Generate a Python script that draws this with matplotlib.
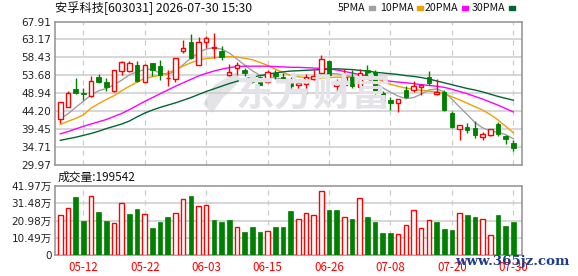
import numpy as np
import pandas as pd
import matplotlib
matplotlib.use("Agg")
import matplotlib.pyplot as plt
from matplotlib.patches import Rectangle, Polygon

plt.rcParams['font.family'] = ['DejaVu Sans', 'Noto Sans CJK SC']
CJK = ['Noto Sans CJK SC', 'DejaVu Sans']

# trading days shown (Dragon Boat holiday removed)
dates = pd.bdate_range("2026-05-07", "2026-07-30").drop(pd.Timestamp("2026-06-19"))
tick_dates = ["05-12", "05-22", "06-03", "06-15", "06-26", "07-08", "07-20", "07-30"]

opens = [42.2, 45.35, 50.09, 49.0, 48.24, 53.25, 52.02, 49.56, 54.92, 54.7,
         56.5, 51.93, 56.93, 56.2, 52.9, 52.81, 60.0, 62.47, 56.5, 62.4,
         60.8, 60.0, 53.78, 55.62, 55.18, 53.25, 53.25, 52.02, 54.3, 53.25,
         52.72, 51.14, 51.4, 52.72, 54.3, 57.37, 50.96, 51.14, 53.25, 50.53,
         55.18, 54.56, 49.03, 47.1, 46.4, 49.74, 49.74, 50.6, 53.25, 48.86,
         49.21, 43.77, 39.4, 39.99, 39.8, 37.5, 37.9, 40.69, 37.62, 35.9]
highs = [46.7, 49.65, 52.98, 50.35, 53.6, 54.1, 52.98, 55.0, 57.55, 57.4,
         57.4, 56.8, 56.93, 57.81, 55.18, 58.25, 63.08, 64.6, 63.7, 64.1,
         64.84, 61.5, 56.76, 57.11, 55.6, 54.0, 53.4, 55.18, 55.18, 54.3,
         53.2, 52.55, 54.0, 55.18, 59.13, 57.8, 52.8, 55.35, 55.0, 55.44,
         56.3, 55.0, 49.5, 47.98, 47.54, 50.8, 52.3, 51.5, 54.74, 52.72,
         49.7, 44.2, 40.5, 41.1, 41.7, 38.7, 39.4, 41.3, 38.0, 36.6]
lows = [41.0, 45.2, 48.8, 47.28, 47.97, 51.7, 49.65, 49.3, 53.8, 54.6,
        51.9, 51.8, 53.6, 52.55, 50.8, 51.93, 59.57, 58.0, 56.3, 60.9,
        58.25, 57.8, 53.42, 53.86, 53.4, 51.7, 51.1, 51.9, 52.7, 52.4,
        50.1, 49.47, 48.86, 52.4, 53.86, 53.5, 48.2, 50.6, 50.4, 49.47,
        53.25, 48.86, 45.8, 44.38, 44.1, 47.7, 49.4, 48.6, 51.2, 48.6,
        44.2, 39.8, 36.48, 38.5, 37.0, 36.5, 37.6, 37.6, 35.6, 33.8]
closes = [46.66, 49.03, 48.95, 48.8, 52.1, 51.8, 50.53, 55.0, 57.2, 56.96,
          52.28, 56.5, 55.18, 53.86, 53.1, 58.25, 60.8, 58.25, 62.47, 63.5,
          61.15, 58.43, 54.56, 56.32, 54.3, 51.93, 51.14, 54.56, 53.42, 53.0,
          50.79, 51.67, 53.25, 53.42, 57.99, 53.86, 52.02, 53.25, 50.96, 54.3,
          53.69, 49.03, 46.6, 46.4, 47.54, 47.89, 50.96, 51.1, 51.67, 49.2,
          44.47, 39.99, 40.43, 39.2, 37.9, 38.06, 39.4, 38.06, 36.74, 34.55]

ma5 = [42.2, 43.5, 45.2, 46.8, 48.5, 49.6, 50.2, 51.2, 52.4, 53.8,
       54.6, 55.2, 55.3, 54.2, 53.9, 54.8, 56.5, 58.2, 59.7, 60.6,
       61.0, 60.6, 59.6, 58.0, 56.4, 54.9, 53.7, 53.4, 53.0, 52.7,
       52.5, 52.3, 52.4, 52.7, 53.5, 54.1, 54.1, 53.7, 53.3, 53.0,
       52.7, 51.7, 50.4, 49.2, 48.2, 47.5, 47.8, 48.7, 49.8, 50.1,
       49.3, 47.4, 45.3, 43.3, 41.2, 39.8, 39.0, 38.6, 38.0, 36.9]
ma10 = [40.7, 41.5, 42.3, 43.2, 45.0, 46.2, 47.3, 48.3, 49.6, 50.8,
        51.9, 52.9, 53.3, 53.7, 54.3, 55.2, 56.1, 57.0, 57.7, 58.1,
        58.3, 58.5, 58.6, 58.5, 58.2, 57.8, 57.1, 56.3, 55.3, 54.4,
        53.7, 53.3, 53.1, 53.0, 53.0, 53.1, 53.2, 53.2, 53.1, 53.0,
        53.1, 53.0, 52.1, 51.3, 50.8, 50.3, 50.0, 49.7, 49.5, 49.3,
        48.9, 48.0, 47.2, 46.3, 45.4, 44.5, 43.3, 41.9, 40.2, 38.5]
ma20 = [38.2, 38.8, 39.5, 40.2, 40.8, 41.4, 42.0, 42.8, 43.6, 44.6,
        45.7, 46.8, 47.8, 48.8, 49.8, 50.8, 51.7, 52.6, 53.5, 54.2,
        54.8, 55.3, 55.7, 56.0, 56.1, 56.1, 56.1, 56.1, 56.0, 55.9,
        55.8, 55.8, 55.7, 55.6, 55.5, 55.4, 55.1, 54.7, 54.3, 53.9,
        53.5, 53.0, 52.5, 52.1, 51.9, 51.7, 51.5, 51.2, 51.0, 50.8,
        50.5, 50.0, 49.4, 48.8, 48.1, 47.4, 46.6, 45.8, 44.9, 44.0]
ma30 = [36.5, 36.9, 37.3, 37.8, 38.3, 38.9, 39.6, 40.2, 40.8, 41.6,
        42.7, 43.7, 44.5, 45.2, 45.8, 46.4, 47.1, 47.8, 48.6, 49.4,
        50.1, 50.8, 51.5, 52.1, 52.7, 53.2, 53.6, 54.0, 54.3, 54.6,
        54.8, 54.9, 55.0, 55.1, 55.2, 55.3, 55.4, 55.3, 55.2, 55.0,
        54.8, 54.5, 54.3, 54.1, 53.9, 53.6, 53.4, 53.1, 52.7, 52.2,
        51.7, 51.2, 50.7, 50.2, 49.8, 49.3, 48.7, 48.1, 47.6, 47.1]

# volume in 万 shares, colour by close vs previous close (r = up, g = down)
vol_wan = [24.3, 28.4, 35.1, 20.7, 35.9, 26.2, 20.7, 19.5, 31.4, 24.9,
           28.0, 24.9, 16.4, 20.1, 23.1, 25.5, 34.1, 35.9, 29.8, 30.4,
           21.3, 20.1, 21.3, 17.0, 14.0, 17.0, 14.0, 14.6, 17.0, 17.0,
           26.8, 21.7, 25.5, 24.3, 38.9, 27.4, 27.4, 23.1, 21.9, 34.7,
           23.1, 20.1, 13.4, 13.4, 12.8, 18.2, 27.4, 16.4, 21.3, 20.1,
           15.8, 15.2, 25.5, 24.3, 23.1, 21.9, 12.2, 24.3, 17.6, 19.9542]
vol_dir = "rrggrggrrggrgggrrgrrgggrgggrggg" + "rrrrggrgrggggrrrrrgggrggrrggg"

price_ticks = [29.97, 34.71, 39.45, 44.20, 48.94, 53.68, 58.43, 63.17, 67.91]
vol_ticks = [0, 104925, 209850, 314775, 419700]

W, H = 578, 276
RED, GREEN = "#ff0000", "#008000"
GRID = "#cccccc"
FRAME = "#999999"
WM = "#e3e3e8"

fig = plt.figure(figsize=(W / 100, H / 100), dpi=100)
ax = fig.add_axes([55 / W, 1 - 165 / H, 467 / W, 143.5 / H])
axv = fig.add_axes([55 / W, 1 - 255 / H, 467 / W, 69 / H])

x = np.arange(len(dates))
xl = (-0.69, len(dates) + 0.13)
labels = dates.strftime("%m-%d")
tick_pos = [i for i, d in enumerate(labels) if d in tick_dates]

for a in (ax, axv):
    a.set_xlim(*xl)
    for s in a.spines.values():
        s.set_color(FRAME)
        s.set_linewidth(1.2)
    a.set_xticks(tick_pos)
    a.tick_params(length=0, labelsize=7.5, pad=2.5, colors="#222222")
    for p in tick_pos:
        a.axvline(p, color=GRID, lw=0.9, ls=(0, (4, 4)), zorder=1)
ax.set_xticklabels([])
axv.set_xticklabels([labels[p] for p in tick_pos], color=RED, family=CJK, fontsize=8.3)
axv.tick_params(axis="x", pad=4)

# price panel
ax.set_ylim(price_ticks[0], price_ticks[-1])
ax.set_yticks(price_ticks)
ax.set_yticklabels([f"{v:.2f}" for v in price_ticks])
for v in price_ticks[1:-1]:
    ax.axhline(v, color=GRID, lw=1.1, zorder=1)

# faint watermark: logo swoosh + name
fig.text(313 / W, 1 - 95 / H, "东方财富", fontsize=28, fontweight="bold",
         family=CJK, color=WM, ha="center", va="center", zorder=0.5, style="italic")
ax.add_patch(Polygon([(236, 73), (214, 86), (204, 104), (212, 112), (222, 98), (240, 80)],
                     closed=True, transform=None, color=WM, zorder=0.5))
ax.patches[-1].set_transform(
    matplotlib.transforms.Affine2D().scale(1, -1).translate(0, H) + matplotlib.transforms.IdentityTransform())

o, h, l, c = map(np.array, (opens, highs, lows, closes))
up = c >= o
ax.vlines(x[up], l[up], h[up], color=RED, lw=1, zorder=3)
ax.vlines(x[~up], l[~up], h[~up], color=GREEN, lw=1, zorder=3)
body = np.maximum(np.abs(c - o), 0.15)
ax.bar(x[up], body[up], bottom=np.minimum(o, c)[up], width=0.58, facecolor="white",
       edgecolor=RED, linewidth=1, zorder=4)
ax.bar(x[~up], body[~up], bottom=np.minimum(o, c)[~up], width=0.58, facecolor=GREEN,
       edgecolor=GREEN, linewidth=0.6, zorder=4)

ma_styles = [(ma5, "#a0a0a0"), (ma10, "#f0a000"), (ma20, "#ff00ff"), (ma30, "#006633")]
for vals, col in ma_styles:
    ax.plot(x, vals, color=col, lw=1, zorder=2.5)

# volume panel
vol = np.array(vol_wan) * 10000
vup = np.array([d == "r" for d in vol_dir])
axv.set_ylim(0, vol_ticks[-1])
axv.set_yticks(vol_ticks)
axv.set_yticklabels(["0"] + [f"{v / 10000:.2f}万" for v in vol_ticks[1:]])
for v in vol_ticks[1:-1]:
    axv.axhline(v, color=GRID, lw=1.1, zorder=1)
axv.bar(x[vup], vol[vup], width=0.6, facecolor="white", edgecolor=RED, linewidth=1, zorder=3)
axv.bar(x[~vup], vol[~vup], width=0.6, facecolor=GREEN, edgecolor=GREEN, linewidth=0.5, zorder=3)

# header texts
fig.text(55 / W, 1 - 8 / H, "安孚科技[603031] 2026-07-30 15:30", family=CJK, fontsize=8.8,
         va="center", ha="left", color="#111111")
fig.text(58 / W, 1 - 177 / H, f"成交量:{int(round(vol[-1]))}", family=CJK, fontsize=8.5,
         va="center", ha="left", color="#111111")

renderer = fig.canvas.get_renderer()
legend_x = [338, 380, 425, 472]
for (vals, col), lx, name in zip(ma_styles, legend_x, ["5PMA", "10PMA", "20PMA", "30PMA"]):
    t = fig.text(lx / W, 1 - 8 / H, name, family=CJK, fontsize=7.6, va="center", ha="left",
                 color="#111111")
    bb = t.get_window_extent(renderer)
    fig.patches.append(Rectangle(((bb.x1 + 3) / W, 1 - 10 / H), 6 / W, 4 / H,
                                 transform=fig.transFigure, color=col))

fig.text(512 / W, 1 - 261 / H, "www.365jz.com", family=["DejaVu Serif"], fontweight="bold",
         fontsize=9.6, color="#1f3c88", ha="center", va="center", zorder=5)

fig.savefig("out.png", dpi=100)
